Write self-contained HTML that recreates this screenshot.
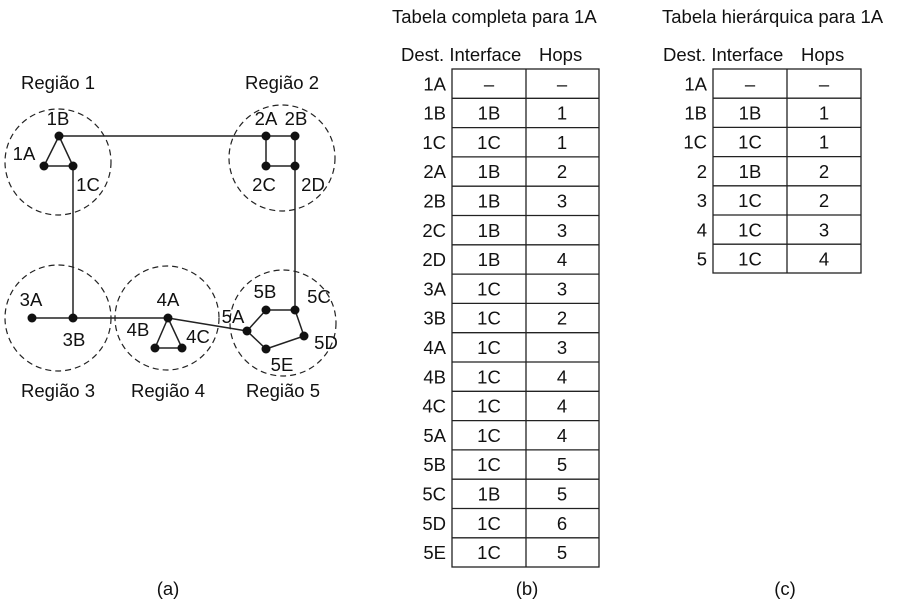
<!DOCTYPE html>
<html><head><meta charset="utf-8"><style>
html,body{margin:0;padding:0;background:#fff;}
svg{display:block;}
text{font-family:"Liberation Sans",Arial,sans-serif;font-size:18.5px;fill:#111;}
</style></head><body>
<svg width="900" height="600" viewBox="0 0 900 600" xmlns="http://www.w3.org/2000/svg">
<g fill="none" stroke="#222" stroke-width="1.2" stroke-dasharray="6,4">
<circle cx="58" cy="162" r="53"/>
<circle cx="282" cy="158" r="53"/>
<circle cx="58" cy="318" r="53"/>
<circle cx="167" cy="318" r="52"/>
<circle cx="283" cy="323" r="53"/>
</g>
<g stroke="#222" stroke-width="1.5" fill="none">
<polyline points="59,136 295,136 295,310"/>
<polygon points="59,136 44,166 73,166"/>
<polyline points="73,166 73,318"/>
<polyline points="32,318 168,318 247,331"/>
<polyline points="266,136 266,166 295,166"/>
<polygon points="168,318 155,348 182,348"/>
<polygon points="247,331 266,310 295,310 304,336 266,349"/>
</g>
<g fill="#111">
<circle cx="59" cy="136" r="4.5"/><circle cx="44" cy="166" r="4.5"/><circle cx="73" cy="166" r="4.5"/>
<circle cx="266" cy="136" r="4.5"/><circle cx="295" cy="136" r="4.5"/><circle cx="266" cy="166" r="4.5"/><circle cx="295" cy="166" r="4.5"/>
<circle cx="32" cy="318" r="4.5"/><circle cx="73" cy="318" r="4.5"/>
<circle cx="168" cy="318" r="4.5"/><circle cx="155" cy="348" r="4.5"/><circle cx="182" cy="348" r="4.5"/>
<circle cx="247" cy="331" r="4.5"/><circle cx="266" cy="310" r="4.5"/><circle cx="295" cy="310" r="4.5"/><circle cx="304" cy="336" r="4.5"/><circle cx="266" cy="349" r="4.5"/>
</g>
<g text-anchor="middle">
<text x="58" y="89">Região 1</text>
<text x="282" y="89">Região 2</text>
<text x="58" y="397">Região 3</text>
<text x="168" y="397">Região 4</text>
<text x="283" y="397">Região 5</text>
<text x="58" y="125">1B</text>
<text x="24" y="160">1A</text>
<text x="88" y="191">1C</text>
<text x="266" y="125">2A</text>
<text x="296" y="125">2B</text>
<text x="264" y="191">2C</text>
<text x="313" y="191">2D</text>
<text x="31" y="306">3A</text>
<text x="74" y="346">3B</text>
<text x="168" y="306">4A</text>
<text x="138" y="336">4B</text>
<text x="198" y="343">4C</text>
<text x="233" y="323">5A</text>
<text x="265" y="298">5B</text>
<text x="319" y="303">5C</text>
<text x="326" y="349">5D</text>
<text x="282" y="371">5E</text>
<text x="168" y="595">(a)</text>
<text x="527" y="595">(b)</text>
<text x="785" y="595">(c)</text>
</g>
<text x="392" y="23">Tabela completa para 1A</text>
<text x="662" y="23">Tabela hierárquica para 1A</text>
<text x="401" y="61">Dest. Interface</text><text x="539" y="61">Hops</text>
<text x="663" y="61">Dest. Interface</text><text x="801" y="61">Hops</text>
<g stroke="#222" stroke-width="1.3" fill="none">
<rect x="452" y="69" width="147" height="498"/>
<line x1="526" y1="69" x2="526" y2="567"/>
<path d="M452 98.3H599M452 127.6H599M452 156.9H599M452 186.2H599M452 215.5H599M452 244.8H599M452 274.1H599M452 303.4H599M452 332.7H599M452 362H599M452 391.3H599M452 420.6H599M452 449.9H599M452 479.2H599M452 508.5H599M452 537.8H599"/>
<rect x="713" y="69" width="148" height="204"/>
<line x1="787" y1="69" x2="787" y2="273"/>
<path d="M713 98.2H861M713 127.4H861M713 156.6H861M713 185.8H861M713 215H861M713 244.2H861"/>
</g>
<g text-anchor="end">
<text x="446" y="90.3">1A</text><text x="446" y="119.6">1B</text><text x="446" y="148.9">1C</text><text x="446" y="178.2">2A</text><text x="446" y="207.5">2B</text><text x="446" y="236.8">2C</text><text x="446" y="266.1">2D</text><text x="446" y="295.4">3A</text><text x="446" y="324.7">3B</text><text x="446" y="354">4A</text><text x="446" y="383.3">4B</text><text x="446" y="412.6">4C</text><text x="446" y="441.9">5A</text><text x="446" y="471.2">5B</text><text x="446" y="500.5">5C</text><text x="446" y="529.8">5D</text><text x="446" y="559.1">5E</text>
<text x="707" y="90.3">1A</text><text x="707" y="119.5">1B</text><text x="707" y="148.7">1C</text><text x="707" y="177.9">2</text><text x="707" y="207.1">3</text><text x="707" y="236.3">4</text><text x="707" y="265.5">5</text>
</g>
<g text-anchor="middle">
<text x="489" y="90.3">–</text><text x="489" y="119.6">1B</text><text x="489" y="148.9">1C</text><text x="489" y="178.2">1B</text><text x="489" y="207.5">1B</text><text x="489" y="236.8">1B</text><text x="489" y="266.1">1B</text><text x="489" y="295.4">1C</text><text x="489" y="324.7">1C</text><text x="489" y="354">1C</text><text x="489" y="383.3">1C</text><text x="489" y="412.6">1C</text><text x="489" y="441.9">1C</text><text x="489" y="471.2">1C</text><text x="489" y="500.5">1B</text><text x="489" y="529.8">1C</text><text x="489" y="559.1">1C</text>
<text x="562" y="90.3">–</text><text x="562" y="119.6">1</text><text x="562" y="148.9">1</text><text x="562" y="178.2">2</text><text x="562" y="207.5">3</text><text x="562" y="236.8">3</text><text x="562" y="266.1">4</text><text x="562" y="295.4">3</text><text x="562" y="324.7">2</text><text x="562" y="354">3</text><text x="562" y="383.3">4</text><text x="562" y="412.6">4</text><text x="562" y="441.9">4</text><text x="562" y="471.2">5</text><text x="562" y="500.5">5</text><text x="562" y="529.8">6</text><text x="562" y="559.1">5</text>
<text x="750" y="90.3">–</text><text x="750" y="119.5">1B</text><text x="750" y="148.7">1C</text><text x="750" y="177.9">1B</text><text x="750" y="207.1">1C</text><text x="750" y="236.3">1C</text><text x="750" y="265.5">1C</text>
<text x="824" y="90.3">–</text><text x="824" y="119.5">1</text><text x="824" y="148.7">1</text><text x="824" y="177.9">2</text><text x="824" y="207.1">2</text><text x="824" y="236.3">3</text><text x="824" y="265.5">4</text>
</g>
</svg>
</body></html>
